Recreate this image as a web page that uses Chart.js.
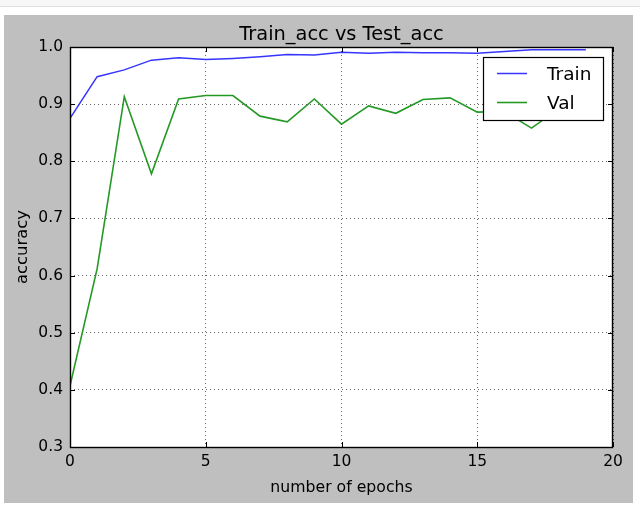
<!DOCTYPE html>
<html>
<head>
<meta charset="utf-8">
<script src="https://cdn.jsdelivr.net/npm/chart.js@4/dist/chart.umd.min.js"></script>
<style>
  html, body { margin: 0; padding: 0; background: #fff; width: 640px; height: 508px; overflow: hidden; }
  #topbar { position: absolute; left: 0; top: 0; width: 640px; height: 6px; background: #f7f7f7; border-bottom: 1px solid #e0e0e0; }
  #wrap { position: absolute; left: 4px; top: 15px; width: 629px; height: 488px; background: #bfbfbf; }
</style>
</head>
<body>
<div id="topbar"></div>
<div id="wrap"><canvas id="c"></canvas></div>
<script>
const epochs   = [0,1,2,3,4,5,6,7,8,9,10,11,12,13,14,15,16,17,18,19];
const trainAcc = [0.875,0.948,0.960,0.977,0.981,0.978,0.980,0.983,0.987,0.986,0.991,0.989,0.991,0.990,0.990,0.989,0.992,0.995,0.995,0.995];
const valAcc   = [0.407,0.612,0.913,0.778,0.909,0.915,0.915,0.879,0.869,0.909,0.865,0.897,0.884,0.908,0.911,0.886,0.887,0.858,0.892,0.890];
const seriesNames = ['Train', 'Val'];
const chartTitle = 'Train_acc vs Test_acc';
const xTicks = [0, 5, 10, 15, 20];
const yTickLabels = ['0.3','0.4','0.5','0.6','0.7','0.8','0.9','1.0'];

const FONT = 'DejaVu Sans';

const framePlugin = {
  id: 'frame',
  beforeDraw(chart) {
    const {ctx, chartArea: a} = chart;
    ctx.save();
    ctx.fillStyle = '#ffffff';
    ctx.fillRect(a.left, a.top, a.width, a.height);
    ctx.restore();
  },
  afterDatasetsDraw(chart) {
    const {ctx, chartArea: a, scales: {x, y}} = chart;
    ctx.save();
    ctx.strokeStyle = '#000';
    ctx.lineWidth = 1;
    ctx.beginPath();
    x.ticks.forEach(t => {
      const px = Math.round(x.getPixelForValue(t.value)) + 0.5;
      ctx.moveTo(px, a.bottom); ctx.lineTo(px, a.bottom - 5);
      ctx.moveTo(px, a.top); ctx.lineTo(px, a.top + 5);
    });
    y.ticks.forEach(t => {
      const py = Math.round(y.getPixelForValue(t.value)) + 0.5;
      ctx.moveTo(a.left, py); ctx.lineTo(a.left + 5, py);
      ctx.moveTo(a.right, py); ctx.lineTo(a.right - 5, py);
    });
    ctx.stroke();
    ctx.lineWidth = 1.4;
    ctx.strokeRect(a.left + 0.5, a.top + 0.5, a.width - 1, a.height);

    // title centred over the plot area
    ctx.fillStyle = '#000';
    ctx.font = '19.4px "' + FONT + '"';
    ctx.textAlign = 'center';
    ctx.textBaseline = 'alphabetic';
    ctx.fillText(chartTitle, (a.left + a.right) / 2, a.top - 7);

    // legend box inside plot, upper right
    const w = 120, h = 63;
    const bx = a.right - 10 - w, by = a.top + 10;
    ctx.fillStyle = '#fff';
    ctx.fillRect(bx, by, w, h);
    ctx.lineWidth = 1.2;
    ctx.strokeStyle = '#000';
    ctx.strokeRect(bx + 0.5, by + 0.5, w, h);
    const rows = [16, 45];
    chart.data.datasets.forEach((ds, i) => {
      const ry = by + rows[i] + 0.5;
      ctx.strokeStyle = ds.borderColor;
      ctx.lineWidth = ds.borderWidth;
      ctx.beginPath();
      ctx.moveTo(bx + 14, ry); ctx.lineTo(bx + 44, ry);
      ctx.stroke();
      ctx.fillStyle = '#000';
      ctx.font = '18.5px "' + FONT + '"';
      ctx.textAlign = 'left';
      ctx.textBaseline = 'alphabetic';
      ctx.fillText(ds.label, bx + 64, by + rows[i] + 7);
    });
    ctx.restore();
  }
};

const toPts = arr => epochs.map((e, i) => ({x: e, y: arr[i]}));

new Chart(document.getElementById('c'), {
  type: 'line',
  data: {
    datasets: [
      { label: seriesNames[0], data: toPts(trainAcc), borderColor: '#3535ff', borderWidth: 1.5, pointRadius: 0, tension: 0, fill: false },
      { label: seriesNames[1], data: toPts(valAcc), borderColor: '#259925', borderWidth: 1.6, pointRadius: 0, tension: 0, fill: false }
    ]
  },
  options: {
    responsive: true,
    maintainAspectRatio: false,
    animation: false,
    layout: { padding: { left: 0, right: 20, top: 32, bottom: 0 } },
    plugins: {
      legend: { display: false },
      tooltip: { enabled: false },
      title: { display: false }
    },
    scales: {
      x: {
        type: 'linear',
        min: 0, max: 20,
        afterFit: s => { s.height = 56; },
        afterBuildTicks: s => { s.ticks = xTicks.map(v => ({value: v})); },
        ticks: { color: '#000', padding: 6, font: { family: FONT, size: 15.5 }, callback: v => String(v), maxRotation: 0 },
        grid: { drawTicks: false, color: 'rgba(0,0,0,0.6)', lineWidth: 1 },
        border: { display: false, dash: [1, 3] },
        title: { display: true, text: 'number of epochs', color: '#000', font: { family: FONT, size: 15.7 }, padding: { top: 0, bottom: 5.6 } }
      },
      y: {
        type: 'linear',
        min: 0.3, max: 1.0,
        afterFit: s => { s.width = 66; },
        afterBuildTicks: s => { s.ticks = yTickLabels.map(v => ({value: parseFloat(v)})); },
        ticks: { color: '#000', padding: 7, font: { family: FONT, size: 15.5 }, callback: (v, i) => yTickLabels[i] },
        grid: { drawTicks: false, color: 'rgba(0,0,0,0.6)', lineWidth: 1 },
        border: { display: false, dash: [1, 3] },
        title: { display: true, text: 'accuracy', color: '#000', font: { family: FONT, size: 16.4 }, padding: { top: 8.9, bottom: 0 } }
      }
    }
  },
  plugins: [framePlugin]
});
</script>
</body>
</html>
